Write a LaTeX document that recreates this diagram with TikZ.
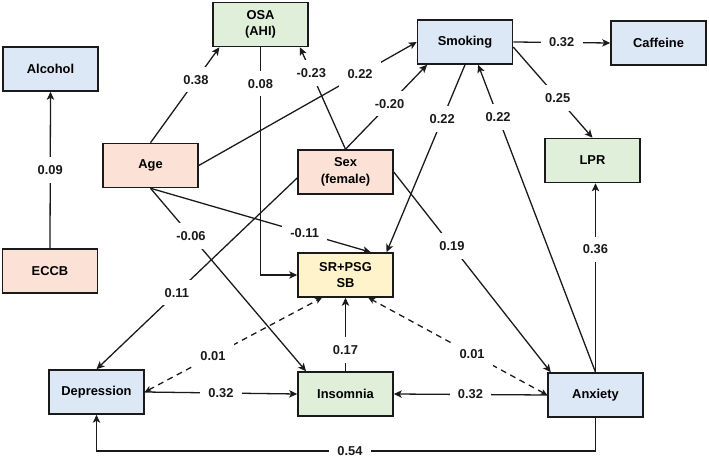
\documentclass[tikz,border=0pt]{standalone}
\usepackage{fontspec}
\setmainfont{Liberation Sans}
\usepackage{tikz}
\usetikzlibrary{arrows.meta,positioning,calc}
\definecolor{ink}      {HTML}{1A1A1A}
\definecolor{varblue}  {HTML}{DDE8F6}
\definecolor{vargreen} {HTML}{DFEFDA}
\definecolor{varpeach} {HTML}{FCE1D6}
\definecolor{varyellow}{HTML}{FFF3CC}
\tikzset{
  varbox/.style    ={draw=ink, line width=1.3pt,
                     minimum width=2.85cm, minimum height=1.32cm,
                     align=center, font=\fontsize{11}{14}\selectfont\bfseries, inner sep=2pt},
  bluebox/.style   ={varbox, fill=varblue},
  greenbox/.style  ={varbox, fill=vargreen},
  peachbox/.style  ={varbox, fill=varpeach},
  yellowbox/.style ={varbox, fill=varyellow},
  coeflbl/.style   ={fill=white, text=ink, font=\fontsize{11}{12}\selectfont\bfseries,
                     inner xsep=7pt, inner ysep=7pt},
  patharr/.style   ={-{Stealth[length=2.4mm,width=2.2mm,inset=0.6mm]}, line width=1.1pt, color=ink},
  corrarr/.style   ={{Stealth[length=2mm,width=1.8mm,inset=0.5mm]}-{Stealth[length=2mm,width=1.8mm,inset=0.5mm]},
                     line width=1.1pt, color=ink, dash pattern=on 5pt off 4pt},
}
\begin{document}
\begin{tikzpicture}[x=0.03cm,y=-0.03cm]
    \useasboundingbox (0,0) rectangle (709,458);

    % Variables
    \node[bluebox]   (alcohol)    at (50.5,69)   {Alcohol};
    \node[peachbox]  (eccb)       at (50,271)    {ECCB};
    \node[greenbox]  (osa)        at (260.5,24.5) {OSA\\(AHI)};
    \node[peachbox]  (age)        at (150.5,165.5) {Age};
    \node[peachbox]  (sex)        at (345.5,172) {Sex\\(female)};
    \node[bluebox]   (smoking)    at (465,42)    {Smoking};
    \node[bluebox]   (caffeine)   at (658.5,43)  {Caffeine};
    \node[greenbox]  (lpr)        at (592.5,160.5) {LPR};
    \node[yellowbox] (srpsg)      at (345.5,275) {SR+PSG\\SB};
    \node[bluebox]   (depression) at (96.5,392)  {Depression};
    \node[greenbox]  (insomnia)   at (345.5,394) {Insomnia};
    \node[bluebox]   (anxiety)    at (595.5,395) {Anxiety};
    \coordinate (loop) at (350,451);

    % Paths from the top row
    \draw[patharr] (eccb.north) -- (alcohol.south) node[coeflbl,midway] {0.09};
    \draw[patharr] (age.north) -- (osa.209) node[coeflbl,pos=0.66] {0.38};
    \draw[patharr] (osa.south) |- (srpsg.west) node[coeflbl,pos=0.08] {0.08};
    \draw[patharr] (sex.north) -- (osa.330) node[coeflbl,pos=0.75] {-0.23};
    \draw[patharr] (age.east) -- (smoking.west) node[coeflbl,pos=0.74] {0.22};
    \draw[patharr] (sex.north) -- (smoking.211) node[coeflbl,pos=0.54] {-0.20};
    \draw[patharr] (smoking.south) -- (srpsg.29) node[coeflbl,pos=0.29] {0.22};
    \draw[patharr] (anxiety.north) -- (smoking.300) node[coeflbl,pos=0.83] {0.22};
    \draw[patharr] (smoking.east) -- (caffeine.west) node[coeflbl,midway] {0.32};
    \draw[patharr] (smoking.-6) -- (lpr.north) node[coeflbl,pos=0.56] {0.25};
    \draw[patharr] (anxiety.north) -- (anxiety.north |- lpr.south) node[coeflbl,pos=0.65] {0.36};

    % Paths into sleep outcomes
    \draw[patharr] (age.south) -- (srpsg.42) node[coeflbl,pos=0.70] {-0.11};
    \draw[patharr] (age.south) -- (insomnia.150) node[coeflbl,pos=0.26] {-0.06};
    \draw[patharr] (sex.187) -- (depression.north) node[coeflbl,pos=0.60] {0.11};
    \draw[patharr] (sex.east) -- (anxiety.153) node[coeflbl,pos=0.37] {0.19};
    \draw[corrarr] (depression.east) -- (srpsg.224) node[coeflbl,pos=0.385] {0.01};
    \draw[corrarr] (anxiety.west) -- (srpsg.315) node[coeflbl,pos=0.42] {0.01};
    \draw[patharr] (depression.east) -- (insomnia.west) node[coeflbl,midway] {0.32};
    \draw[patharr] (anxiety.west) -- (insomnia.east) node[coeflbl,midway] {0.32};
    \draw[patharr] (insomnia.north) -- (srpsg.south) node[coeflbl,pos=0.29] {0.17};
    \draw[patharr] (anxiety.south) |- (loop) node[coeflbl] {0.54} -| (depression.south);
\end{tikzpicture}
\end{document}
